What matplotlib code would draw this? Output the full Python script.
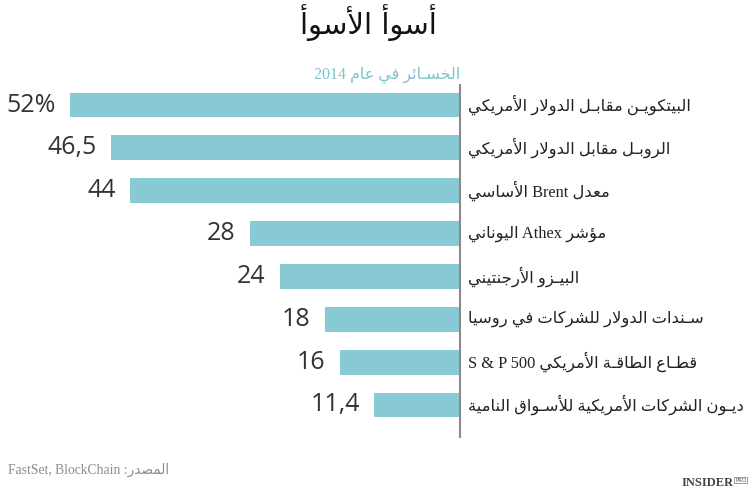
import matplotlib
matplotlib.use("Agg")
import matplotlib.pyplot as plt

# ---- data ----
labels = [
    "البيتكويـن مقابـل الدولار الأمريكي",
    "الروبـل مقابل الدولار الأمريكي",
    "معدل Brent الأساسي",
    "مؤشر Athex اليوناني",
    "البيـزو الأرجنتيني",
    "سـندات الدولار للشركات في روسيا",
    "قطـاع الطاقـة الأمريكي S & P 500",
    "ديـون الشركات الأمريكية للأسـواق النامية",
]
values = [52, 46.5, 44, 28, 24, 18, 16, 11.4]
value_text = ["52%", "46,5", "44", "28", "24", "18", "16", "11,4"]

title = "أسوأ الأسوأ"
subtitle = "الخسـائر في عام 2014"
source = "المصدر: FastSet, BlockChain"

# ---- tiny arabic shaper (no arabic_reshaper in the sandbox) ----
# letters from U+0621, in order, with their number of presentation forms (from U+FE80)
_letters = [chr(0x621 + i) for i in range(26)] + [chr(c) for c in range(0x641, 0x64B)]
_counts = [1, 2, 2, 2, 2, 4, 2, 4, 2, 4, 4, 4, 4, 4, 2, 2, 2, 2,
           4, 4, 4, 4, 4, 4, 4, 4,
           4, 4, 4, 4, 4, 4, 4, 2, 2, 4]
FORMS = {}
code = 0xFE80
for ch, n in zip(_letters, _counts):
    if n == 1:
        FORMS[ch] = (code, None, None, None)
    elif n == 2:
        FORMS[ch] = (code, code + 1, None, None)
    else:
        FORMS[ch] = (code, code + 1, code + 2, code + 3)
    code += n
TATWEEL = "\u0640"
LAM_ALEF = {"\u0622": 0xFEF5, "\u0623": 0xFEF7, "\u0625": 0xFEF9, "\u0627": 0xFEFB}


def joins_next(ch):
    # can this char connect to the following letter
    if ch == TATWEEL:
        return True
    f = FORMS.get(ch)
    return f is not None and f[2] is not None


def joins_prev(ch):
    if ch == TATWEEL:
        return True
    f = FORMS.get(ch)
    return f is not None and f[1] is not None


def shape(text):
    # lam-alef first
    chars = []
    i = 0
    while i < len(text):
        c = text[i]
        if c == "\u0644" and i + 1 < len(text) and text[i + 1] in LAM_ALEF:
            chars.append(("LA", text[i + 1]))
            i += 2
        else:
            chars.append(c)
            i += 1
    out = []
    for k, c in enumerate(chars):
        prev = chars[k - 1] if k > 0 else None
        nxt = chars[k + 1] if k + 1 < len(chars) else None
        p_join = prev is not None and not isinstance(prev, tuple) and joins_next(prev)
        if isinstance(c, tuple):
            base = LAM_ALEF[c[1]]
            out.append(chr(base + 1 if p_join else base))
            continue
        if c not in FORMS:
            out.append(c)
            continue
        n_join = nxt is not None and (isinstance(nxt, tuple) or joins_prev(nxt)) and joins_next(c)
        iso, fin, ini, med = FORMS[c]
        if p_join and n_join:
            out.append(chr(med))
        elif p_join and fin:
            out.append(chr(fin))
        elif n_join and ini:
            out.append(chr(ini))
        else:
            out.append(chr(iso))
    return "".join(out)


def is_ltr(ch):
    return ch.isascii() and ch.isalnum()


def rtl(text):
    s = shape(text)[::-1]
    # put latin / digit runs back in reading order
    res = []
    i = 0
    while i < len(s):
        if is_ltr(s[i]):
            j = i
            last = i
            while j < len(s) and s[j].isascii():
                if is_ltr(s[j]):
                    last = j
                j += 1
            res.append(s[i:last + 1][::-1])
            i = last + 1
        else:
            res.append(s[i])
            i += 1
    return "".join(res)


# ---- figure ----
W, H = 750, 491
fig = plt.figure(figsize=(W / 100, H / 100), dpi=100)
ax = fig.add_axes([0, 54 / H, 460 / W, 352 / H])

bar_color = "#87cad4"
ypos = list(range(len(values)))
ax.barh(ypos, values, height=0.58, color=bar_color)
ax.set_xlim(460 / 7.5, 0)
ax.set_ylim(7.747, -0.467)

for s in ["top", "left", "bottom"]:
    ax.spines[s].set_visible(False)
ax.spines["right"].set_color("#8a8a8a")
ax.spines["right"].set_linewidth(1.5)
ax.set_xticks([])
ax.set_yticks([])

for y, v, t in zip(ypos, values, value_text):
    ax.text(v + 1.9, y, t, ha="right", va="center", fontsize=18,
            color="#333333", family=["Open Sans", "DejaVu Sans"])

for y, lab in zip(ypos, labels):
    ax.text(1.017, y, rtl(lab), transform=ax.get_yaxis_transform(),
            ha="left", va="center", fontsize=11.8, color="#222222",
            family=["Liberation Serif", "DejaVu Sans"])

fig.text(368 / W, 1 - 23 / H, rtl(title), ha="center", va="center",
         fontsize=21, color="#111111", family=["DejaVu Sans"])
fig.text(460 / W, 1 - 75 / H, rtl(subtitle), ha="right", va="center",
         fontsize=11.5, color="#7ec3cc", family=["Liberation Serif", "DejaVu Sans"])
fig.text(8 / W, 1 - 470 / H, rtl(source), ha="left", va="center",
         fontsize=9.8, color="#8c8c8c", family=["Liberation Serif", "DejaVu Sans"])

# logo
fig.text(734 / W, 1 - 483 / H, "INSIDER", ha="right", va="center",
         fontsize=9, color="#444444", weight="bold", family="Liberation Serif")
fig.text(735 / W, 1 - 480 / H, "PRO", ha="left", va="center",
         fontsize=4, color="#555555", family="DejaVu Sans",
         bbox=dict(boxstyle="square,pad=0.15", fc="none", ec="#777777", lw=0.5))

fig.savefig("out.png", dpi=100)
